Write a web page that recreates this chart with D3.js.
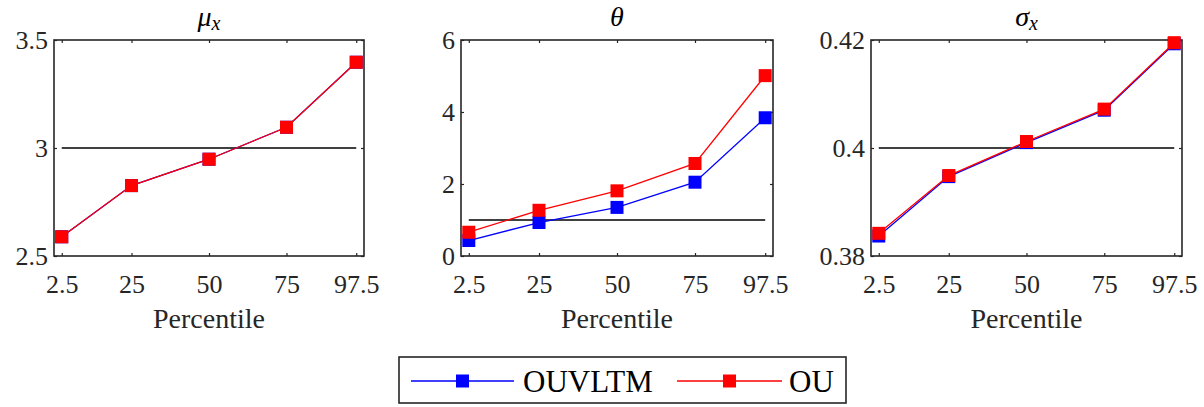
<!DOCTYPE html>
<html><head><meta charset="utf-8">
<script src="https://cdn.jsdelivr.net/npm/d3@7"></script>
</head>
<body style="margin:0">
<svg id="chart" width="1204" height="407"></svg>
<script>
// ---- data ----
const percentiles = [2.5, 25, 50, 75, 97.5];
const xTickLabels = ["2.5", "25", "50", "75", "97.5"];
const seriesNames = ["OUVLTM", "OU"];
const seriesColors = ["#0000ff", "#ff0000"];

// panel 1: mu_x
const muOUVLTM = [2.589, 2.826, 2.948, 3.096, 3.397];
const muOU     = [2.589, 2.826, 2.948, 3.096, 3.397];
const muTicks = [2.5, 3, 3.5];
const muTickLabels = ["2.5", "3", "3.5"];
const muRef = 3;

// panel 2: theta
const thetaOUVLTM = [0.43, 0.93, 1.35, 2.05, 3.84];
const thetaOU     = [0.66, 1.27, 1.81, 2.57, 5.01];
const thetaTicks = [0, 2, 4, 6];
const thetaTickLabels = ["0", "2", "4", "6"];
const thetaRef = 1;

// panel 3: sigma_x
const sigOUVLTM = [0.3837, 0.3947, 0.4010, 0.4070, 0.4193];
const sigOU     = [0.3842, 0.3949, 0.4012, 0.4072, 0.4195];
const sigTicks = [0.38, 0.40, 0.42];
const sigTickLabels = ["0.38", "0.4", "0.42"];
const sigRef = 0.4;

const panels = [
  { sym: "\u03bc", sub: "x", series: [muOUVLTM, muOU], ticks: muTicks, labels: muTickLabels, ref: muRef, domain: [2.5, 3.5], x0: 54, x1: 364 },
  { sym: "\u03b8", sub: null, series: [thetaOUVLTM, thetaOU], ticks: thetaTicks, labels: thetaTickLabels, ref: thetaRef, domain: [0, 6], x0: 461, x1: 773 },
  { sym: "\u03c3", sub: "x", series: [sigOUVLTM, sigOU], ticks: sigTicks, labels: sigTickLabels, ref: sigRef, domain: [0.38, 0.42], x0: 871, x1: 1182 }
];

const svg = d3.select("#chart");
const serif = "'Liberation Serif'";
const axisColor = "#262626";
const plotTop = 40, plotBottom = 256;
const tickFont = 26;
const markerSize = 13;

panels.forEach(p => {
  const x = d3.scaleLinear().domain([0, 100]).range([p.x0, p.x1]);
  const y = d3.scaleLinear().domain(p.domain).range([plotBottom, plotTop]);
  const g = svg.append("g");

  // axes
  const ax = g.append("g").attr("transform", `translate(0,${plotBottom})`)
    .call(d3.axisBottom(x).tickValues(percentiles).tickFormat((d, i) => xTickLabels[i])
      .tickSizeInner(-3).tickSizeOuter(0).tickPadding(19));
  const axT = g.append("g").attr("transform", `translate(0,${plotTop})`)
    .call(d3.axisTop(x).tickValues(percentiles).tickFormat("").tickSizeInner(-3).tickSizeOuter(0));
  const ay = g.append("g").attr("transform", `translate(${p.x0},0)`)
    .call(d3.axisLeft(y).tickValues(p.ticks).tickFormat((d, i) => p.labels[i])
      .tickSizeInner(-3).tickSizeOuter(0).tickPadding(6));
  const ayR = g.append("g").attr("transform", `translate(${p.x1},0)`)
    .call(d3.axisRight(y).tickValues(p.ticks).tickFormat("").tickSizeInner(-3).tickSizeOuter(0));
  [ax, axT, ay, ayR].forEach(a => {
    a.attr("font-family", null).attr("font-size", null);
    a.select(".domain").remove();
    a.selectAll(".tick line").attr("stroke", axisColor).attr("stroke-width", 1.2);
    a.selectAll(".tick text").attr("fill", axisColor).attr("font-size", tickFont)
      .style("font-family", serif);
  });
  ay.selectAll(".tick text").attr("dy", "0.33em");

  // box
  g.append("rect").attr("x", p.x0).attr("y", plotTop).attr("width", p.x1 - p.x0).attr("height", plotBottom - plotTop)
    .attr("fill", "none").attr("stroke", axisColor).attr("stroke-width", 1.6);

  // reference line
  g.append("line")
    .attr("x1", x(percentiles[0])).attr("x2", x(percentiles[percentiles.length - 1]))
    .attr("y1", y(p.ref)).attr("y2", y(p.ref))
    .attr("stroke", "#000").attr("stroke-width", 1.4);

  // series
  const line = d3.line().x((d, i) => x(percentiles[i])).y(d => y(d));
  p.series.forEach((vals, si) => {
    g.append("path").datum(vals).attr("d", line)
      .attr("fill", "none").attr("stroke", seriesColors[si]).attr("stroke-width", 1.3);
    g.selectAll(null).data(vals).enter().append("rect")
      .attr("x", (d, i) => x(percentiles[i]) - markerSize / 2)
      .attr("y", d => y(d) - markerSize / 2)
      .attr("width", markerSize).attr("height", markerSize)
      .attr("fill", seriesColors[si]);
  });

  // title
  const cx = (p.x0 + p.x1) / 2;
  const t = g.append("text").attr("x", cx).attr("y", 26).attr("text-anchor", "middle")
    .attr("font-size", 28).attr("font-style", "italic").attr("fill", "#000")
    .style("font-family", serif);
  t.append("tspan").text(p.sym);
  if (p.sub) t.append("tspan").attr("font-size", 20).attr("dy", 4).text(p.sub);

  // x label
  g.append("text").attr("x", cx).attr("y", 328).attr("text-anchor", "middle")
    .attr("font-size", 28).attr("fill", axisColor).style("font-family", serif).text("Percentile");
});

// legend
const lg = svg.append("g");
lg.append("rect").attr("x", 399).attr("y", 357).attr("width", 447).attr("height", 46)
  .attr("fill", "#fff").attr("stroke", axisColor).attr("stroke-width", 1.6);
const legendItems = [
  { x0: 411, x1: 514, tx: 523 },
  { x0: 677, x1: 782, tx: 789 }
];
seriesNames.forEach((name, i) => {
  const it = legendItems[i];
  const ly = 381;
  lg.append("line").attr("x1", it.x0).attr("x2", it.x1).attr("y1", ly).attr("y2", ly)
    .attr("stroke", seriesColors[i]).attr("stroke-width", 1.3);
  lg.append("rect").attr("x", (it.x0 + it.x1) / 2 - 6.5).attr("y", ly - 6.5)
    .attr("width", 13).attr("height", 13).attr("fill", seriesColors[i]);
  lg.append("text").attr("x", it.tx).attr("y", 392).attr("font-size", 31)
    .attr("fill", "#000").style("font-family", serif).text(name);
});
</script>
</body></html>
